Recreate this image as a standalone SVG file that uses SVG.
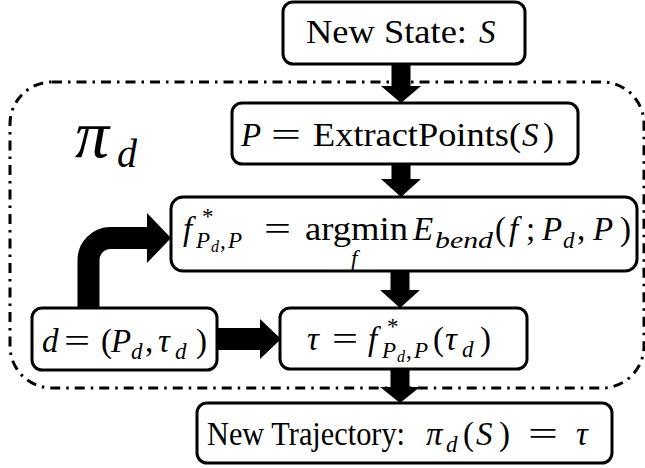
<svg xmlns="http://www.w3.org/2000/svg" width="645" height="468" viewBox="0 0 645 468">
<style>
.box{fill:#fff;stroke:#000;stroke-width:3}
.t{font-family:"Liberation Serif","DejaVu Serif",serif;font-size:33px;fill:#000}
.i{font-style:italic}
.s{font-size:23px}
.ss{font-size:16px}
.arr{fill:#000}
.bound{fill:none;stroke:#000;stroke-width:3;stroke-dasharray:10 6 2.5 6}
</style>
<rect width="645" height="468" fill="#fff"/>
<g id="policy">
  <rect class="bound" x="10" y="82" width="634" height="306" rx="42"/>
  <text class="t" style="font-size:68px"><tspan class="i" x="75" y="157">π</tspan><tspan class="i" x="117" y="167" style="font-size:40px">d</tspan></text>
</g>
<g id="new-state">
  <rect class="box" x="283" y="2" width="242" height="62" rx="10"/>
  <text class="t" y="43"><tspan x="306" textLength="161" lengthAdjust="spacingAndGlyphs">New State:</tspan><tspan class="i" x="479">S</tspan></text>
</g>
<g id="extract">
  <rect class="box" x="232" y="103" width="346" height="61" rx="10"/>
  <text class="t" y="146"><tspan class="i" x="241">P</tspan><tspan x="271" textLength="30" lengthAdjust="spacingAndGlyphs">=</tspan><tspan x="313" textLength="208" lengthAdjust="spacingAndGlyphs">ExtractPoints(</tspan><tspan class="i" x="522">S</tspan><tspan x="543">)</tspan></text>
</g>
<g id="argmin">
  <rect class="box" x="171" y="197" width="466" height="74" rx="12"/>
  <text class="t" y="240"><tspan class="i" x="183">f</tspan><tspan class="s" x="202" y="224">*</tspan><tspan class="s i" x="196" y="248">P</tspan><tspan class="ss i" x="211" y="252">d</tspan><tspan class="s" x="220" y="248">,</tspan><tspan class="s i" x="228" y="248">P</tspan><tspan x="264" y="240" textLength="27" lengthAdjust="spacingAndGlyphs">=</tspan><tspan x="305" y="240" textLength="103" lengthAdjust="spacingAndGlyphs">argmin</tspan><tspan class="s i" x="351" y="266">f</tspan><tspan class="i" x="413" y="240">E</tspan><tspan class="s i" x="435" y="248" textLength="58" lengthAdjust="spacingAndGlyphs">bend</tspan><tspan x="495" y="240">(</tspan><tspan class="i" x="509">f</tspan><tspan x="526">;</tspan><tspan class="i" x="542">P</tspan><tspan class="s i" x="563" y="248">d</tspan><tspan x="577" y="240">,</tspan><tspan class="i" x="593">P</tspan><tspan x="620">)</tspan></text>
</g>
<g id="demo">
  <rect class="box" x="32" y="308" width="185" height="62" rx="10"/>
  <text class="t" y="352"><tspan class="i" x="42">d</tspan><tspan x="64" textLength="26" lengthAdjust="spacingAndGlyphs">=</tspan><tspan x="101">(</tspan><tspan class="i" x="111">P</tspan><tspan class="s i" x="131" y="359">d</tspan><tspan x="145" y="352">,</tspan><tspan class="i" x="158">τ</tspan><tspan class="s i" x="175" y="359">d</tspan><tspan x="196" y="352">)</tspan></text>
</g>
<g id="warp">
  <rect class="box" x="280" y="308" width="247" height="61" rx="10"/>
  <text class="t" y="350"><tspan class="i" x="307">τ</tspan><tspan x="332" textLength="26" lengthAdjust="spacingAndGlyphs">=</tspan><tspan class="i" x="368">f</tspan><tspan class="s" x="387" y="334">*</tspan><tspan class="s i" x="382" y="358">P</tspan><tspan class="ss i" x="397" y="362">d</tspan><tspan class="s" x="406" y="358">,</tspan><tspan class="s i" x="414" y="358">P</tspan><tspan x="433" y="350">(</tspan><tspan class="i" x="445">τ</tspan><tspan class="s i" x="462" y="357">d</tspan><tspan x="480" y="350">)</tspan></text>
</g>
<g id="new-trajectory">
  <rect class="box" x="197" y="403" width="415" height="60" rx="10"/>
  <text class="t" y="445"><tspan x="207" textLength="198" lengthAdjust="spacingAndGlyphs">New Trajectory:</tspan><tspan class="i" x="426">π</tspan><tspan class="s i" x="446" y="452">d</tspan><tspan x="463" y="445">(</tspan><tspan class="i" x="476">S</tspan><tspan x="499">)</tspan><tspan x="528" textLength="30" lengthAdjust="spacingAndGlyphs">=</tspan><tspan class="i" x="576">τ</tspan></text>
</g>
<g id="connectors">
  <polygon class="arr" points="391.5,64 410.5,64 410.5,86 421,86 401,103 381,86 391.5,86"/>
  <polygon class="arr" points="391.5,164 410.5,164 410.5,179 421,179 401,197 381,179 391.5,179"/>
  <polygon class="arr" points="390.5,271 409.5,271 409.5,290 420,290 400,308 380,290 390.5,290"/>
  <polygon class="arr" points="390.5,369 409.5,369 409.5,387 420,387 400,403 380,387 390.5,387"/>
  <polygon class="arr" points="217,328 260,328 260,319 281,339 260,359 260,350 217,350"/>
  <path d="M88.5,308 V260 A22,22 0 0 1 110.5,238 H149" fill="none" stroke="#000" stroke-width="22"/>
  <polygon class="arr" points="147,213 171,238 147,263"/>
</g>
</svg>
